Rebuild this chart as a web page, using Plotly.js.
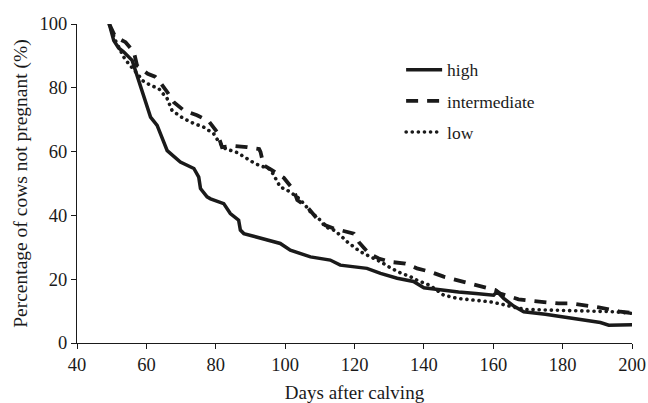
<!DOCTYPE html>
<html>
<head>
<meta charset="utf-8">
<script src="https://cdn.plot.ly/plotly-3.0.1.min.js"></script>
<style>
  html, body { margin: 0; padding: 0; background: #fff; }
  #chart { width: 648px; height: 403px; }
</style>
</head>
<body>
<div id="chart"></div>
<script>
// Days after calving and percentage of cows not yet pregnant, per group
const highDays = [49.3, 50.6, 52, 53.5, 55.9, 58.3, 61.2, 63.1, 66, 69.8, 73.7, 75.1, 75.6, 77.5, 78.5, 82.3, 84.2, 86.6, 87.1, 88.1, 94.8, 98.6, 101.5, 107.3, 113, 115.9, 123.6, 127.5, 132.3, 137, 140, 145, 150, 155, 160.1, 161.1, 163, 166, 168.8, 175, 181.3, 186, 190.9, 193.3, 200];
const highPct = [100, 94.8, 92.5, 91.2, 88.6, 80.2, 70.8, 68.2, 60.3, 56.7, 54.7, 52, 48.4, 45.8, 45.2, 43.7, 40.6, 38.5, 35.4, 34.3, 32.2, 31.2, 29.1, 27, 26, 24.4, 23.4, 21.8, 20.3, 19.3, 17.3, 16.6, 16, 15.5, 15, 16.1, 14, 11.5, 9.8, 9, 8, 7.3, 6.4, 5.6, 5.7];

const intermediateDays = [49.3, 51, 54, 56.4, 57.3, 60.4, 62.5, 63.6, 66, 67.9, 70.8, 74.6, 78, 80.4, 81.8, 85.2, 89, 92.5, 92.9, 93.8, 96.3, 99.6, 102.5, 103.5, 106.3, 107.8, 109.2, 111.6, 114, 119.8, 121.2, 124.1, 127, 130.5, 134.7, 138, 141.9, 145.7, 149.6, 152.9, 156.3, 160.6, 162, 167.3, 171.2, 175, 178.8, 182.7, 186.5, 190.4, 193.7, 196.6, 200];
const intermediatePct = [100, 96, 94.3, 91.2, 87, 84.4, 83.5, 82.3, 78.7, 75.5, 72.9, 71.4, 69.5, 66.1, 61.4, 61.8, 61.4, 60.8, 59.9, 55.7, 54.1, 51.8, 47.9, 44.8, 42.7, 40.6, 39, 36.9, 35.9, 34.3, 31.7, 28.1, 26.5, 25.4, 24.9, 23.4, 22.3, 20.8, 19.7, 18.7, 17.6, 16.6, 15.5, 13.7, 13.2, 12.9, 12.4, 12.4, 11.9, 11.2, 10.5, 9.8, 9.4];

const lowDays = [49.3, 51, 53.5, 54.9, 57.8, 58.8, 61.2, 63.6, 66, 67.4, 70.8, 73.7, 76.5, 79.4, 80.9, 82.8, 86.2, 89, 91.4, 95.8, 97.7, 98.6, 100.6, 103.5, 105.4, 107.3, 109.7, 111.6, 114, 115.9, 117.9, 119.8, 121.7, 124.6, 127.5, 130.3, 133.2, 136.1, 138, 141.9, 145.7, 149.6, 154.4, 159.2, 163.5, 166, 169.7, 180, 190.9, 195, 200];
const lowPct = [100, 95, 89.6, 87.5, 83.9, 82.3, 80.8, 79.7, 76.6, 72.9, 70.3, 68.8, 67.7, 65.6, 63, 60.9, 59.7, 57.8, 56.2, 54.4, 51, 48.9, 47.9, 45.8, 43.7, 41.1, 39, 36.4, 35.4, 33.8, 31.7, 30.1, 28.6, 27, 25.5, 23.6, 22, 20.8, 19.7, 18, 15, 14, 13.5, 12.9, 11.9, 11.2, 10.5, 10.3, 10.1, 9.8, 9.3];

const xTicks = [40, 60, 80, 100, 120, 140, 160, 180, 200];
const yTicks = [0, 20, 40, 60, 80, 100];

const serif = 'Liberation Serif, Times New Roman, serif';
const ink = '#1a1a1a';
const DOT_DASH = '0.1px,6px';

const traces = [
  { name: 'high', x: highDays, y: highPct, legendgroup: 'a',
    line: { color: ink, width: 3.5, dash: 'solid' } },
  { name: 'intermediate', x: intermediateDays, y: intermediatePct, legendgroup: 'b',
    line: { color: ink, width: 3.8, dash: '12px,9px' } },
  { name: 'low', x: lowDays, y: lowPct, legendgroup: 'c',
    line: { color: ink, width: 3.6, dash: DOT_DASH } }
].map(t => Object.assign({ type: 'scatter', mode: 'lines', hoverinfo: 'skip' }, t));

const layout = {
  width: 648, height: 403,
  margin: { l: 76.5, r: 16.3, t: 23.5, b: 60 },
  paper_bgcolor: '#fff', plot_bgcolor: '#fff',
  font: { family: serif, size: 18, color: ink },
  showlegend: true,
  legend: {
    x: 0.584, y: 0.913, xanchor: 'left', yanchor: 'top',
    bgcolor: 'rgba(0,0,0,0)', borderwidth: 0,
    font: { family: serif, size: 17.5, color: ink },
    traceorder: 'grouped', tracegroupgap: 5.4, itemwidth: 36
  },
  xaxis: {
    range: [40, 200], tickvals: xTicks, ticktext: xTicks.map(String),
    showgrid: false, zeroline: false, showline: true, linecolor: ink, linewidth: 1,
    ticks: 'outside', ticklen: 5, tickcolor: ink, tickwidth: 1,
    tickfont: { family: serif, size: 18.5, color: ink },
    title: { text: 'Days after calving', font: { family: serif, size: 19, color: ink }, standoff: 12 }
  },
  yaxis: {
    range: [0, 100], tickvals: yTicks, ticktext: yTicks.map(String),
    showgrid: false, zeroline: false, showline: true, linecolor: ink, linewidth: 1,
    ticks: 'outside', ticklen: 5, tickcolor: ink, tickwidth: 1,
    tickfont: { family: serif, size: 18.5, color: ink },
    title: { text: 'Percentage of cows not pregnant (%)', font: { family: serif, size: 19.5, color: ink }, standoff: 6 }
  }
};

// round caps turn the short dash segments of the "low" series into dots
function roundDots(gd) {
  gd.querySelectorAll('path.js-line').forEach(p => {
    if ((p.style.strokeDasharray || '').indexOf('0.1') === 0) p.style.strokeLinecap = 'round';
  });
}

Plotly.newPlot('chart', traces, layout, { staticPlot: true, displayModeBar: false })
  .then(roundDots);
</script>
</body>
</html>
